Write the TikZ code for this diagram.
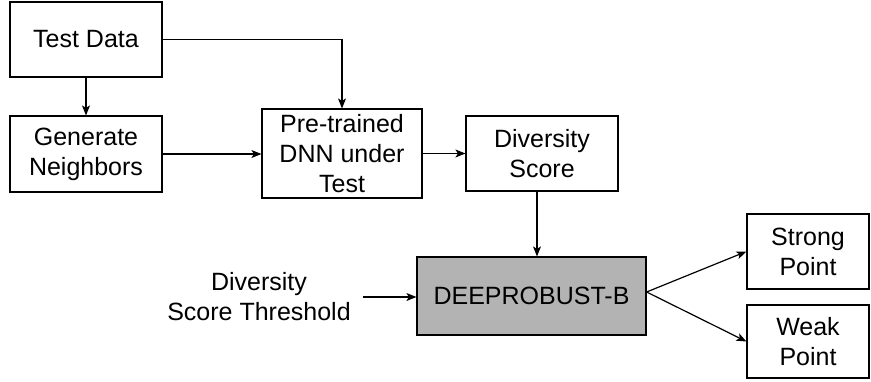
\documentclass[tikz,border=0pt]{standalone}
\usepackage{fontspec}
\setmainfont{Liberation Sans}
\usetikzlibrary{arrows.meta}
\definecolor{boxgray}{RGB}{179,179,179}
\begin{document}
\begin{tikzpicture}[x=1pt,y=-1pt,
  every node/.style={font=\fontsize{25}{30}\selectfont, align=center},
  box/.style={draw, line width=1.2pt, inner sep=0pt},
  conn/.style={line width=1.2pt, -{Stealth[length=10pt,width=8pt,inset=2.5pt]}}]
\useasboundingbox (0,0) rectangle (871,381);

% process boxes
\node[box, minimum width=152pt, minimum height=75pt] (td)  at (86,39.5)   {Test Data};
\node[box, minimum width=152pt, minimum height=76pt] (gn)  at (86,154)    {Generate\\Neighbors};
\node[box, minimum width=160pt, minimum height=89pt] (dnn) at (342,153.5) {Pre-trained\\DNN under\\Test};
\node[box, minimum width=152pt, minimum height=75pt] (ds)  at (542,153.5) {Diversity\\Score};
\node[box, fill=boxgray, minimum width=229pt, minimum height=78pt] (dp) at (531.5,296) {DEEPROBUST-B};
\node[box, minimum width=122pt, minimum height=75pt] (sp)  at (808,251.5) {Strong\\Point};
\node[box, minimum width=122pt, minimum height=73pt] (wp)  at (808,341.5) {Weak\\Point};

% threshold input label
\node[inner sep=0pt] (thr) at (259,297) {Diversity\\Score Threshold};

% connectors
\draw[conn] (td.east) -| (dnn.north);
\draw[conn] (td.south) -- (gn.north);
\draw[conn] (gn.east) -- (gn.east -| dnn.west);
\draw[conn] (dnn.east) -- (dnn.east -| ds.west);
\draw[conn] ([xshift=-5pt]ds.south) -- ([xshift=5.5pt]dp.north);
\draw[conn] ([xshift=12pt]thr.east) -- (thr.east -| dp.west);
\draw[conn] ([yshift=4pt]dp.east) -- (sp.west);
\draw[conn] ([yshift=4pt]dp.east) -- (wp.west);
\end{tikzpicture}
\end{document}
